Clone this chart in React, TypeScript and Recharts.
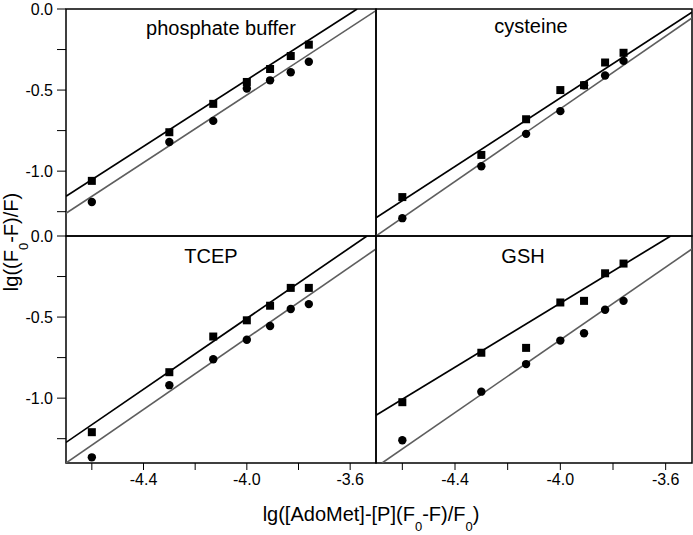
import React from 'react';
import { ComposedChart, Line, Scatter, XAxis, YAxis, ReferenceArea } from 'recharts';

// x positions shared by every panel: lg([AdoMet]-[P](F0-F)/F0)
const xLevels = [-4.6, -4.3, -4.13, -4.0, -3.91, -3.83, -3.76];

// lg((F0-F)/F), squares and circles per condition
const phosphateSquares = [-1.06, -0.76, -0.585, -0.45, -0.37, -0.29, -0.22];
const phosphateCircles = [-1.19, -0.82, -0.69, -0.49, -0.44, -0.39, -0.325];
const cysteineSquares = [-1.16, -0.9, -0.68, -0.5, -0.47, -0.33, -0.27];
const cysteineCircles = [-1.29, -0.97, -0.77, -0.63, -0.47, -0.41, -0.32];
const tcepSquares = [-1.21, -0.84, -0.62, -0.52, -0.43, -0.32, -0.32];
const tcepCircles = [-1.365, -0.92, -0.76, -0.64, -0.555, -0.45, -0.42];
const gshSquares = [-1.025, -0.72, -0.69, -0.41, -0.4, -0.23, -0.17];
const gshCircles = [-1.26, -0.96, -0.79, -0.645, -0.6, -0.455, -0.4];

// fitted lines, read as their two visible end points [x, y]
const phosphateFitSq = [[-4.7, -1.155], [-3.573, 0]];
const phosphateFitCi = [[-4.7, -1.26], [-3.5, -0.01]];
const cysteineFitSq = [[-4.7, -1.288], [-3.5, -0.02]];
const cysteineFitCi = [[-4.7, -1.4], [-3.5, -0.055]];
const tcepFitSq = [[-4.7, -1.273], [-3.535, 0]];
const tcepFitCi = [[-4.7, -1.4], [-3.5, -0.08]];
const gshFitSq = [[-4.7, -1.106], [-3.581, 0]];
const gshFitCi = [[-4.677, -1.4], [-3.5, -0.08]];

const xTicks = [-4.6, -4.4, -4.2, -4.0, -3.8, -3.6];
const xLabelled = [-4.4, -4.0, -3.6];
const yTicks = [0, -0.25, -0.5, -0.75, -1.0, -1.25];
const yLabelled = [0, -0.5, -1.0];

const X_DOMAIN: [number, number] = [-4.7, -3.5];
const Y_DOMAIN: [number, number] = [-1.4, 0];
const FONT = '"Liberation Sans", Arial, sans-serif';

const toPoints = (ys: number[]) => xLevels.map((x, i) => ({ x, y: ys[i] }));
const toLine = (pts: number[][]) => pts.map(([x, y]) => ({ x, y }));
const near = (v: number, list: number[]) => list.some(l => Math.abs(l - v) < 1e-6);

const YTick = (props: any) => {
  const { x, y, payload } = props;
  if (!near(payload.value, yLabelled)) return <g />;
  return (
    <text x={x} y={y} dy="0.36em" textAnchor="end" fontSize={16} fill="#000" fontFamily={FONT}>
      {payload.value.toFixed(1)}
    </text>
  );
};

const XTick = (props: any) => {
  const { x, y, payload } = props;
  if (!near(payload.value, xLabelled)) return <g />;
  return (
    <text x={x} y={y} dy="0.71em" textAnchor="middle" fontSize={16} fill="#000" fontFamily={FONT}>
      {payload.value.toFixed(1)}
    </text>
  );
};

const SquareDot = (props: any) => (
  <rect x={props.cx - 4} y={props.cy - 4} width={8} height={8} fill="#000" />
);
const CircleDot = (props: any) => <circle cx={props.cx} cy={props.cy} r={4.2} fill="#000" />;

const panels = [
  { left: 0, top: 0, width: 380, height: 240, margin: { top: 9, right: 4, bottom: 4, left: 0 }, isLeft: true, isBottom: false,
    sq: phosphateSquares, ci: phosphateCircles, fitSq: phosphateFitSq, fitCi: phosphateFitCi },
  { left: 371, top: 0, width: 322, height: 240, margin: { top: 9, right: 1, bottom: 4, left: 5 }, isLeft: false, isBottom: false,
    sq: cysteineSquares, ci: cysteineCircles, fitSq: cysteineFitSq, fitCi: cysteineFitCi },
  { left: 0, top: 216, width: 380, height: 319, margin: { top: 20, right: 4, bottom: 32, left: 0 }, isLeft: true, isBottom: true,
    sq: tcepSquares, ci: tcepCircles, fitSq: tcepFitSq, fitCi: tcepFitCi },
  { left: 371, top: 216, width: 322, height: 319, margin: { top: 20, right: 1, bottom: 32, left: 5 }, isLeft: false, isBottom: true,
    sq: gshSquares, ci: gshCircles, fitSq: gshFitSq, fitCi: gshFitCi },
];

const Panel = ({ p }: { p: (typeof panels)[number] }) => (
  <div style={{ position: 'absolute', left: p.left, top: p.top }}>
    <ComposedChart width={p.width} height={p.height} margin={p.margin}>
      <XAxis
        dataKey="x"
        type="number"
        domain={X_DOMAIN}
        ticks={xTicks}
        interval={0}
        allowDataOverflow
        hide={!p.isBottom}
        height={40}
        axisLine={false}
        stroke="#000"
        tickSize={7}
        tickMargin={4}
        tick={XTick}
      />
      {p.isLeft ? (
        <YAxis
          dataKey="y"
          type="number"
          domain={Y_DOMAIN}
          ticks={yTicks}
          interval={0}
          allowDataOverflow
          width={66}
          axisLine={false}
          stroke="#000"
          tickSize={9}
          tickMargin={4}
          tick={YTick}
        />
      ) : (
        <YAxis
          dataKey="y"
          type="number"
          domain={Y_DOMAIN}
          ticks={yTicks}
          interval={0}
          allowDataOverflow
          width={1}
          mirror
          axisLine={false}
          stroke="#000"
          tickSize={4}
          tick={false}
        />
      )}
      <ReferenceArea x1={-4.7} x2={-3.5} y1={-1.4} y2={0} fill="none" stroke="#000" strokeWidth={1.5} />
      <Line data={toLine(p.fitCi)} dataKey="y" stroke="#5e5e5e" strokeWidth={1.6} dot={false} isAnimationActive={false} />
      <Line data={toLine(p.fitSq)} dataKey="y" stroke="#000" strokeWidth={1.7} dot={false} isAnimationActive={false} />
      <Scatter data={toPoints(p.ci)} dataKey="y" shape={CircleDot} isAnimationActive={false} />
      <Scatter data={toPoints(p.sq)} dataKey="y" shape={SquareDot} isAnimationActive={false} />
    </ComposedChart>
  </div>
);

export default function App() {
  return (
    <div style={{ position: 'absolute', left: 0, top: 0, width: 693, height: 535, background: '#fff', fontFamily: FONT }}>
      {panels.map((p, i) => (
        <Panel key={i} p={p} />
      ))}
      <svg width={693} height={535} style={{ position: 'absolute', left: 0, top: 0, pointerEvents: 'none' }}>
        <g fontFamily={FONT} fontSize={20} fill="#000">
          <text x={221} y={35} textAnchor="middle">phosphate buffer</text>
          <text x={531} y={33} textAnchor="middle">cysteine</text>
          <text x={211} y={263} textAnchor="middle">TCEP</text>
          <text x={523} y={263} textAnchor="middle">GSH</text>
          <text x={371} y={521} textAnchor="middle">
            lg([AdoMet]-[P](F<tspan dy={10} fontSize={13}>0</tspan>
            <tspan dy={-10}>-F)/F</tspan>
            <tspan dy={10} fontSize={13}>0</tspan>
            <tspan dy={-10}>)</tspan>
          </text>
          <text transform="rotate(-90)" x={-242} y={18} textAnchor="middle">
            lg((F<tspan dy={10} fontSize={13}>0</tspan>
            <tspan dy={-10}>-F)/F)</tspan>
          </text>
        </g>
      </svg>
    </div>
  );
}
